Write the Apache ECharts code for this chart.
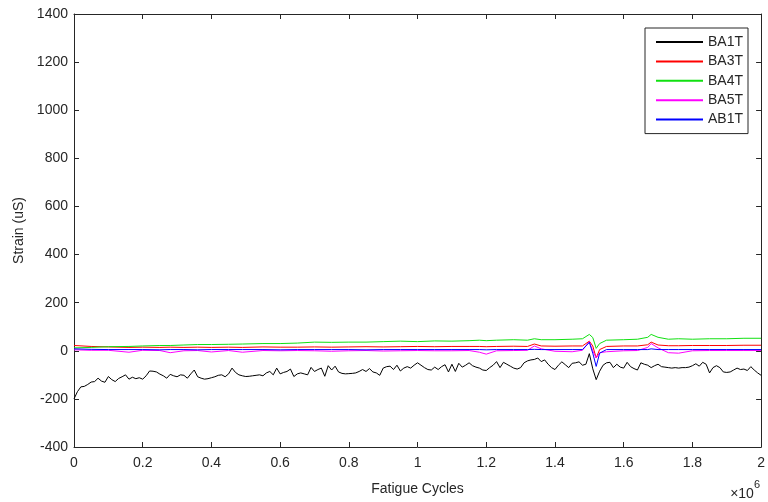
<!DOCTYPE html>
<html>
<head>
<meta charset="utf-8">
<script src="https://cdn.jsdelivr.net/npm/echarts@6/dist/echarts.min.js"></script>
<style>
  html, body { margin: 0; padding: 0; background: #ffffff; }
  #chart { width: 768px; height: 502px; }
</style>
</head>
<body>
<div id="chart"></div>
<script>
// Strain gauge readings over fatigue loading (cycles in units of 10^4)
const seriesNames = ['BA1T', 'BA3T', 'BA4T', 'BA5T', 'AB1T'];
const seriesColors = ['#000000', '#ff0000', '#11e011', '#ff00ff', '#0000ff'];

// BA1T sampled every 10^4 cycles, 0 .. 200
const ba1tStrain = [
  -200, -170, -150, -148, -140, -130, -128, -114, -126, -131,
  -107, -120, -128, -115, -108, -100, -118, -110, -116, -112,
  -118, -104, -84, -85, -88, -97, -104, -114, -98, -104,
  -108, -100, -102, -114, -96, -80, -108, -114, -118, -116,
  -112, -108, -102, -100, -108, -96, -72, -90, -100, -104,
  -107, -106, -104, -102, -100, -104, -92, -86, -100, -72,
  -96, -90, -86, -76, -107, -96, -92, -96, -100, -69,
  -86, -78, -72, -106, -62, -80, -64, -88, -94, -96,
  -95, -94, -92, -86, -78, -86, -74, -88, -92, -102,
  -72, -66, -64, -78, -60, -84, -72, -66, -72, -60,
  -50, -60, -70, -78, -80, -68, -78, -66, -58, -88,
  -56, -86, -52, -68, -60, -50, -62, -68, -72, -80,
  -82, -70, -60, -45, -70, -48, -56, -64, -72, -76,
  -70, -50, -42, -38, -36, -30, -45, -38, -56, -70,
  -78, -60, -46, -58, -70, -52, -50, -46, -60, -56,
  -12, -75, -120, -85, -60, -50, -48, -70, -56, -68,
  -72, -48, -66, -74, -80, -50, -56, -60, -70, -62,
  -56, -66, -68, -70, -72, -70, -72, -70, -70, -68,
  -62, -54, -64, -48, -56, -92, -70, -62, -70, -88,
  -90, -88, -80, -72, -78, -76, -82, -66, -80, -92,
  -102
];

// Sample points (10^4 cycles) for the other gauges
const sparseCycles = [
  0, 5, 10, 16, 20, 25, 28, 32, 36, 40,
  45, 49, 55, 60, 65, 70, 75, 80, 85, 90,
  95, 100, 105, 110, 115, 118, 120, 123, 128, 132,
  134, 136, 140, 145, 148, 150, 151, 152, 153, 155,
  160, 164, 167, 168, 170, 173, 176, 180, 185, 190,
  195, 200
];
const ba3tStrain = [
  22, 18, 16, 14, 15, 14, 15, 14, 15, 14,
  15, 14, 16, 15, 15, 16, 15, 16, 17, 16,
  17, 18, 17, 18, 18, 18, 17, 18, 19, 18,
  28, 20, 19, 20, 20, 40, 20, -30, 5, 18,
  20, 20, 25, 36, 24, 21, 21, 22, 22, 22,
  23, 23
];
const ba4tStrain = [
  12, 14, 17, 18, 20, 22, 22, 24, 26, 26,
  27, 28, 30, 30, 32, 36, 35, 36, 36, 38,
  40, 38, 41, 40, 42, 44, 42, 44, 46, 44,
  50, 46, 46, 48, 50, 68, 55, 10, 30, 44,
  46, 48, 56, 68, 56, 48, 50, 48, 50, 50,
  52, 52
];
const ba5tStrain = [
  4, 2, 2, -6, 2, 1, -8, 0, 1, -5,
  1, -6, 1, 0, 1, 0, -2, 0, 1, -1,
  0, 1, 0, 0, 1, -6, -14, 0, 1, 2,
  20, 8, -2, -4, 2, 38, 0, -30, -8, -4,
  0, 1, 14, 30, 12, -8, -10, 0, 1, 1,
  1, 1
];
const ab1tStrain = [
  8, 6, 5, 5, 5, 4, 5, 5, 4, 5,
  5, 5, 5, 4, 5, 5, 5, 5, 4, 5,
  5, 5, 5, 5, 5, 5, 4, 5, 5, 5,
  6, 5, 5, 5, 5, 35, -10, -65, -10, 5,
  5, 5, 5, 8, 5, 5, 5, 5, 5, 5,
  5, 5
];

// Axis ticks
const xTickValues = [0, 0.2, 0.4, 0.6, 0.8, 1, 1.2, 1.4, 1.6, 1.8, 2];
const yTickValues = [-400, -200, 0, 200, 400, 600, 800, 1000, 1200, 1400];

const CYCLE_UNIT = 1e4;
const pairs = (xs, ys) => ys.map((y, i) => [xs[i] * CYCLE_UNIT, y]);
const ba1tCycles = ba1tStrain.map((_, i) => i);

const seriesData = [
  pairs(ba1tCycles, ba1tStrain),
  pairs(sparseCycles, ba3tStrain),
  pairs(sparseCycles, ba4tStrain),
  pairs(sparseCycles, ba5tStrain),
  pairs(sparseCycles, ab1tStrain)
];

const axisColor = '#262626';
const labelColor = '#262626';
const font = 'Liberation Sans, Arial, Helvetica, sans-serif';

const chart = echarts.init(document.getElementById('chart'), null, { renderer: 'canvas' });

const xMin = xTickValues[0] * 1e6, xMax = xTickValues[xTickValues.length - 1] * 1e6;
const xStep = (xTickValues[1] - xTickValues[0]) * 1e6;
const yMin = yTickValues[0], yMax = yTickValues[yTickValues.length - 1];
const yStep = yTickValues[1] - yTickValues[0];

const boxAxis = {
  axisLine: { show: true, onZero: false, lineStyle: { color: axisColor, width: 1 } },
  axisTick: { show: true, inside: true, length: 5, lineStyle: { color: axisColor } },
  splitLine: { show: false }
};

chart.setOption({
  backgroundColor: '#ffffff',
  animation: false,
  grid: { left: 74, right: 6, top: 14, bottom: 55, containLabel: false },
  xAxis: [
    Object.assign({
      type: 'value', min: xMin, max: xMax, interval: xStep, position: 'bottom',
      name: 'Fatigue Cycles', nameLocation: 'middle', nameGap: 35,
      nameTextStyle: { color: labelColor, fontSize: 14, fontFamily: font },
      axisLabel: {
        color: labelColor, fontSize: 14, fontFamily: font, margin: 9,
        formatter: v => String(+(v / 1e6).toFixed(1))
      }
    }, boxAxis),
    Object.assign({
      type: 'value', min: xMin, max: xMax, interval: xStep, position: 'top',
      axisLabel: { show: false }
    }, boxAxis)
  ],
  yAxis: [
    Object.assign({
      type: 'value', min: yMin, max: yMax, interval: yStep, position: 'left',
      name: 'Strain (uS)', nameLocation: 'middle', nameGap: 45,
      nameTextStyle: { color: labelColor, fontSize: 14, fontFamily: font },
      axisLabel: {
        color: labelColor, fontSize: 14, fontFamily: font, margin: 6,
        formatter: v => String(v)
      }
    }, boxAxis),
    Object.assign({
      type: 'value', min: yMin, max: yMax, interval: yStep, position: 'right',
      axisLabel: { show: false }
    }, boxAxis)
  ],
  legend: {
    orient: 'vertical',
    left: 645, top: 28,
    padding: [7, 5, 7, 10],
    itemWidth: 47, itemHeight: 14, itemGap: 5.4,
    borderColor: axisColor, borderWidth: 1, borderRadius: 0,
    backgroundColor: '#ffffff',
    itemStyle: { opacity: 0 },
    textStyle: { color: labelColor, fontSize: 14, fontFamily: font },
    data: seriesNames
  },
  graphic: [{
    type: 'text',
    right: 8, top: 479,
    style: {
      text: '{b|×10}{s|6}',
      rich: {
        b: { fontSize: 14, fontFamily: font, fill: labelColor, padding: [8, 0, 0, 0] },
        s: { fontSize: 11, fontFamily: font, fill: labelColor, verticalAlign: 'top' }
      }
    }
  }],
  series: seriesNames.map((name, i) => ({
    name: name,
    type: 'line',
    data: seriesData[i],
    symbol: 'none',
    showSymbol: false,
    color: seriesColors[i],
    lineStyle: { color: seriesColors[i], width: 1 },
    z: 2 + i
  }))
});
</script>
</body>
</html>
